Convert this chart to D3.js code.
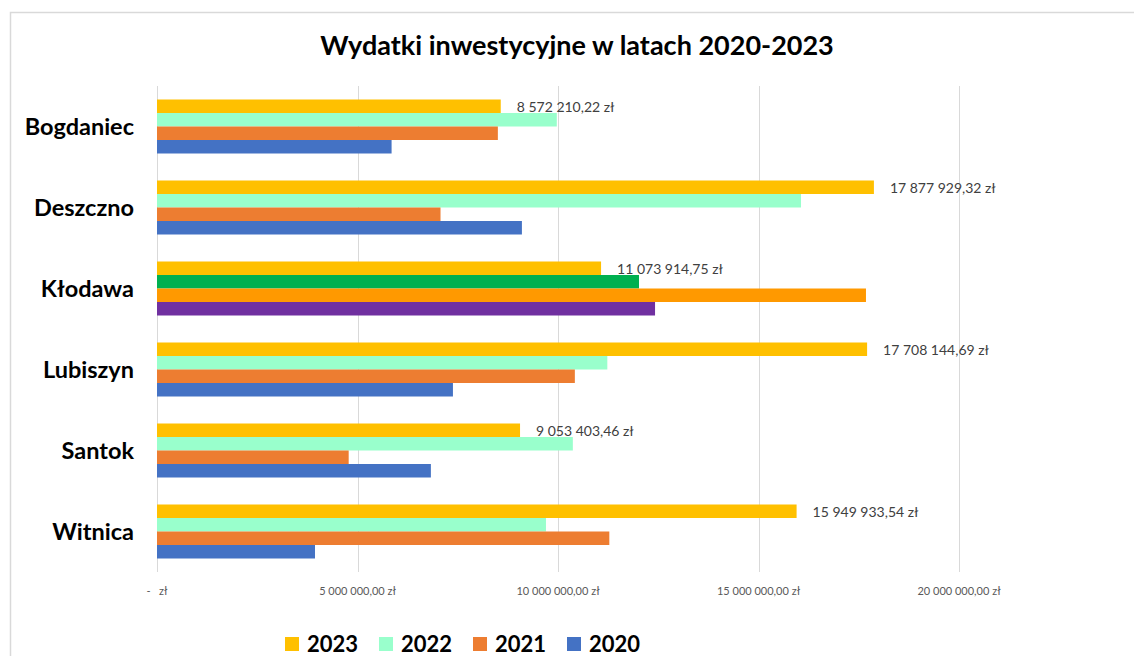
<!DOCTYPE html>
<html>
<head>
<meta charset="utf-8">
<script src="https://cdn.jsdelivr.net/npm/d3@7"></script>
<style>
  body { margin: 0; background: #fff; }
  text { font-family: Lato, "Open Sans", sans-serif; white-space: pre; }
</style>
</head>
<body>
<div id="chart"></div>
<script>
// data
var gminy = ["Bogdaniec", "Deszczno", "Kłodawa", "Lubiszyn", "Santok", "Witnica"];
var lata = ["2023", "2022", "2021", "2020"];
var wyd2023 = [8572210.22, 17877929.32, 11073914.75, 17708144.69, 9053403.46, 15949933.54];
var wyd2022 = [9970000, 16060000, 12020000, 11230000, 10370000, 9700000];
var wyd2021 = [8500000, 7070000, 17680000, 10420000, 4780000, 11280000];
var wyd2020 = [5850000, 9100000, 12420000, 7380000, 6830000, 3940000];
var ticks = [0, 5000000, 10000000, 15000000, 20000000];

var width = 1134;
var height = 656;

var colours = { "2023": "#FFC000", "2022": "#99FFCC", "2021": "#ED7D31", "2020": "#4472C4" };
// Kłodawa has its own colours in the original
var klodawaColours = { "2023": "#FFC000", "2022": "#00B050", "2021": "#FF9900", "2020": "#7030A0" };

var series = { "2023": wyd2023, "2022": wyd2022, "2021": wyd2021, "2020": wyd2020 };

var rows = [];
gminy.forEach(function(g, i) {
    lata.forEach(function(y) {
        rows.push({ gmina: g, year: y, value: series[y][i] });
    });
});

var svg = d3.select("#chart")
    .append("svg")
    .attr("width", width)
    .attr("height", height);

// chart frame
svg.append("path")
    .attr("d", "M10.5," + height + "V12.5H" + width)
    .attr("fill", "none")
    .attr("stroke", "#d9d9d9")
    .attr("stroke-width", 1.5);

var xScale = d3.scaleLinear().domain([0, 20000000]).range([157, 959]);
var yScale = d3.scaleBand().domain(gminy).range([86, 572]).paddingInner(1 / 3).paddingOuter(1 / 6);
var yInner = d3.scaleBand().domain(lata).range([0, yScale.bandwidth()]);

// gridlines
svg.append("g")
    .selectAll("line")
    .data(ticks)
    .enter()
    .append("line")
    .attr("x1", function(d) { return Math.round(xScale(d)) + 0.5; })
    .attr("x2", function(d) { return Math.round(xScale(d)) + 0.5; })
    .attr("y1", 86)
    .attr("y2", 572)
    .attr("stroke", "#d9d9d9")
    .attr("stroke-width", 1);

// bars
svg.append("g")
    .selectAll("rect")
    .data(rows)
    .enter()
    .append("rect")
    .attr("x", xScale(0))
    .attr("y", function(d) { return yScale(d.gmina) + yInner(d.year); })
    .attr("width", function(d) { return xScale(d.value) - xScale(0); })
    .attr("height", yInner.bandwidth())
    .attr("fill", function(d) {
        return d.gmina === "Kłodawa" ? klodawaColours[d.year] : colours[d.year];
    });

// value labels for 2023
var fmt = function(v) {
    var s = v.toFixed(2).split(".");
    return s[0].replace(/\B(?=(\d{3})+(?!\d))/g, " ") + "," + s[1] + " zł";
};
svg.append("g")
    .selectAll("text")
    .data(gminy)
    .enter()
    .append("text")
    .attr("x", function(d, i) { return xScale(wyd2023[i]) + 16; })
    .attr("y", function(d) { return yScale(d) + yInner("2023") + yInner.bandwidth() / 2 + 1; })
    .attr("dy", "0.35em")
    .style("font-size", "14px")
    .attr("fill", "#404040")
    .text(function(d, i) { return fmt(wyd2023[i]); });

// category labels
svg.append("g")
    .selectAll("text")
    .data(gminy)
    .enter()
    .append("text")
    .attr("x", 134)
    .attr("y", function(d) { return yScale(d) + yScale.bandwidth() / 2; })
    .attr("dy", "0.35em")
    .attr("text-anchor", "end")
    .style("font-size", "23.5px")
    .style("font-weight", "bold")
    .attr("fill", "#000")
    .text(function(d) { return d; });

// x axis labels
var axisFmt = function(v) {
    if (v === 0) return "-   zł";
    return fmt(v);
};
svg.append("g")
    .selectAll("text")
    .data(ticks)
    .enter()
    .append("text")
    .attr("x", function(d) { return xScale(d); })
    .attr("y", 595)
    .attr("text-anchor", "middle")
    .style("font-size", "11px")
    .attr("fill", "#595959")
    .text(axisFmt);

// title
svg.append("text")
    .attr("x", 577)
    .attr("y", 55)
    .attr("text-anchor", "middle")
    .style("font-size", "27px")
    .style("font-weight", "bold")
    .attr("fill", "#000")
    .text("Wydatki inwestycyjne w latach 2020-2023");

// legend
var legendX = [285, 379, 473, 567];
var legend = svg.append("g")
    .selectAll("g")
    .data(lata)
    .enter()
    .append("g")
    .attr("transform", function(d, i) { return "translate(" + legendX[i] + ",637)"; });

legend.append("rect")
    .attr("width", 14)
    .attr("height", 14)
    .attr("fill", function(d) { return colours[d]; });

legend.append("text")
    .attr("x", 22)
    .attr("y", 7)
    .attr("dy", "0.38em")
    .style("font-size", "22px")
    .style("font-weight", "bold")
    .attr("fill", "#000")
    .text(function(d) { return d; });
</script>
</body>
</html>
